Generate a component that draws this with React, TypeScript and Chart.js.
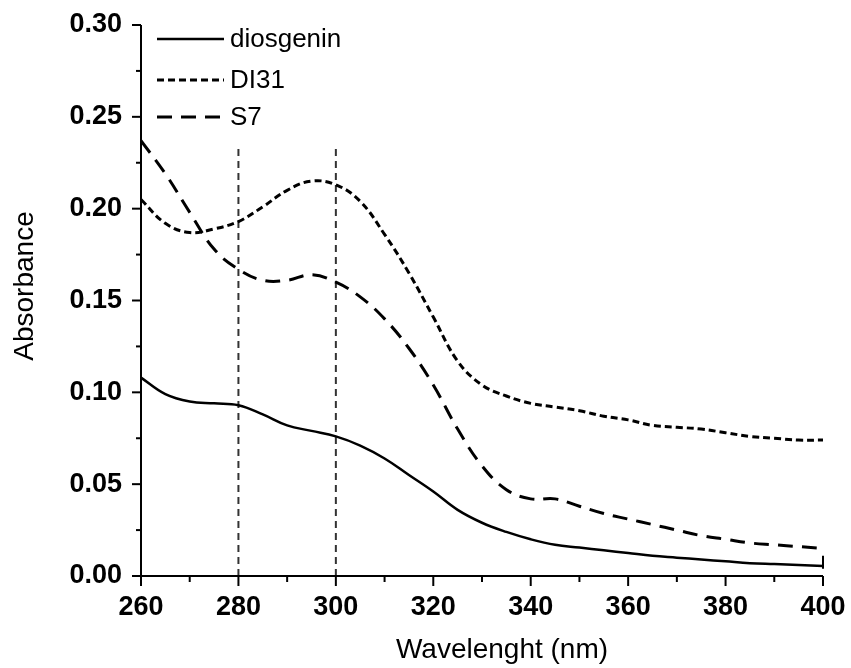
import React, { useEffect, useRef } from "react";
import { Chart, registerables } from "chart.js";

Chart.register(...registerables);

const wavelengths = [260, 265, 270, 275, 280, 285, 290, 295, 300, 305, 310, 315, 320, 325, 330, 335, 340, 345, 350, 355, 360, 365, 370, 375, 380, 385, 390, 395, 400];

const diosgenin = [0.108, 0.099, 0.095, 0.094, 0.093, 0.088, 0.082, 0.079, 0.076, 0.071, 0.064, 0.055, 0.046, 0.036, 0.029, 0.024, 0.020, 0.017, 0.0155, 0.014, 0.0125, 0.011, 0.010, 0.009, 0.008, 0.007, 0.0065, 0.006, 0.0055];

const di31 = [0.205, 0.192, 0.187, 0.189, 0.193, 0.201, 0.210, 0.215, 0.213, 0.204, 0.186, 0.165, 0.141, 0.117, 0.104, 0.098, 0.094, 0.092, 0.090, 0.087, 0.085, 0.082, 0.081, 0.080, 0.078, 0.076, 0.075, 0.074, 0.074];

const s7 = [0.237, 0.219, 0.198, 0.178, 0.167, 0.161, 0.161, 0.164, 0.160, 0.152, 0.140, 0.124, 0.104, 0.080, 0.060, 0.047, 0.042, 0.042, 0.038, 0.034, 0.031, 0.028, 0.025, 0.022, 0.020, 0.018, 0.017, 0.016, 0.015];

const markerLines = [280, 300];
const markerTop = 0.233;
const endCap = { x: 400, y0: 0.004, y1: 0.011 };

const seriesNames = ["diosgenin", "DI31", "S7"];
const seriesDash = [[], [7, 4], [15, 9]];
const seriesWidth = [2.5, 3, 3];

const yTicks = [0, 0.05, 0.1, 0.15, 0.2, 0.25, 0.3];
const xTicks = [260, 280, 300, 320, 340, 360, 380, 400];

const FONT = "'Liberation Sans', Arial, sans-serif";

const toPoints = (vals: number[]) => wavelengths.map((x, i) => ({ x, y: vals[i] }));

const zeroPad = (s: any) => {
  s.paddingLeft = 0;
  s.paddingRight = 0;
  s.paddingTop = 0;
  s.paddingBottom = 0;
};

const decorPlugin = {
  id: "decor",
  afterDraw(chart: any) {
    const { ctx, chartArea, scales } = chart;
    const xs = scales.x;
    const ys = scales.y;
    ctx.save();
    ctx.strokeStyle = "#000";
    ctx.lineWidth = 2;
    ctx.setLineDash([]);
    ctx.beginPath();
    ctx.moveTo(chartArea.left, chartArea.top);
    ctx.lineTo(chartArea.left, chartArea.bottom);
    ctx.lineTo(chartArea.right, chartArea.bottom);
    ctx.stroke();
    for (let k = 0; k <= 12; k++) {
      const v = k * 0.025;
      const major = k % 2 === 0;
      const py = ys.getPixelForValue(v);
      ctx.beginPath();
      ctx.moveTo(chartArea.left, py);
      ctx.lineTo(chartArea.left - (major ? 9 : 5), py);
      ctx.stroke();
    }
    for (let v = 260; v <= 400; v += 10) {
      const major = v % 20 === 0;
      const px = xs.getPixelForValue(v);
      ctx.beginPath();
      ctx.moveTo(px, chartArea.bottom);
      ctx.lineTo(px, chartArea.bottom + (major ? 10 : 6));
      ctx.stroke();
    }
    // end cap mark at the end of the diosgenin trace
    ctx.beginPath();
    const cx = xs.getPixelForValue(endCap.x);
    ctx.moveTo(cx, ys.getPixelForValue(endCap.y0));
    ctx.lineTo(cx, ys.getPixelForValue(endCap.y1));
    ctx.stroke();
    const rows = [39, 80, 117];
    ctx.font = `26px ${FONT}`;
    ctx.fillStyle = "#000";
    ctx.textBaseline = "middle";
    ctx.textAlign = "left";
    seriesNames.forEach((name, i) => {
      ctx.beginPath();
      ctx.lineWidth = seriesWidth[i];
      ctx.setLineDash(seriesDash[i]);
      ctx.moveTo(157, rows[i]);
      ctx.lineTo(224, rows[i]);
      ctx.stroke();
      ctx.setLineDash([]);
      ctx.fillText(name, 230, rows[i] + 1);
    });
    ctx.font = `28px ${FONT}`;
    ctx.textAlign = "center";
    ctx.fillText("Wavelenght (nm)", 502, 650);
    ctx.translate(25, 286);
    ctx.rotate(-Math.PI / 2);
    ctx.fillText("Absorbance", 0, 0);
    ctx.restore();
  },
};

export default function App() {
  const ref = useRef<HTMLCanvasElement | null>(null);
  useEffect(() => {
    document.body.style.margin = "0";
    if (!ref.current) return;
    const line = (i: number, vals: number[]) => ({
      label: seriesNames[i],
      data: toPoints(vals),
      borderColor: "#000",
      borderWidth: seriesWidth[i],
      borderDash: seriesDash[i],
      pointRadius: 0,
      tension: 0.4,
      fill: false,
    });
    const chart = new Chart(ref.current, {
      type: "line",
      data: {
        datasets: [
          line(0, diosgenin),
          line(1, di31),
          line(2, s7),
          ...markerLines.map((m) => ({
            label: `marker${m}`,
            data: [
              { x: m, y: 0 },
              { x: m, y: markerTop },
            ],
            borderColor: "#333",
            borderWidth: 2,
            borderDash: [7, 5],
            pointRadius: 0,
            fill: false,
          })),
        ],
      },
      options: {
        responsive: false,
        animation: false,
        layout: { padding: { top: 25, right: 28, left: 0, bottom: 0 } },
        plugins: { legend: { display: false }, tooltip: { enabled: false } },
        scales: {
          x: {
            type: "linear",
            min: 260,
            max: 400,
            afterFit: (s: any) => {
              s.height = 92;
              zeroPad(s);
            },
            afterBuildTicks: (s: any) => {
              s.ticks = xTicks.map((v) => ({ value: v }));
            },
            grid: { display: false, drawTicks: false },
            border: { display: false },
            ticks: {
              color: "#000",
              padding: 15,
              font: { family: FONT, size: 27, weight: "bold" },
              callback: (v: any) => String(v),
            },
          },
          y: {
            type: "linear",
            min: 0,
            max: 0.3,
            afterFit: (s: any) => {
              s.width = 141;
              zeroPad(s);
            },
            afterBuildTicks: (s: any) => {
              s.ticks = yTicks.map((v) => ({ value: v }));
            },
            grid: { display: false, drawTicks: false },
            border: { display: false },
            ticks: {
              color: "#000",
              padding: 19,
              font: { family: FONT, size: 27, weight: "bold" },
              callback: (v: any) => Number(v).toFixed(2),
            },
          },
        },
      },
      plugins: [decorPlugin],
    });
    return () => chart.destroy();
  }, []);
  return (
    <div style={{ width: 851, height: 668, background: "#fff" }}>
      <canvas ref={ref} width={851} height={668} />
    </div>
  );
}
